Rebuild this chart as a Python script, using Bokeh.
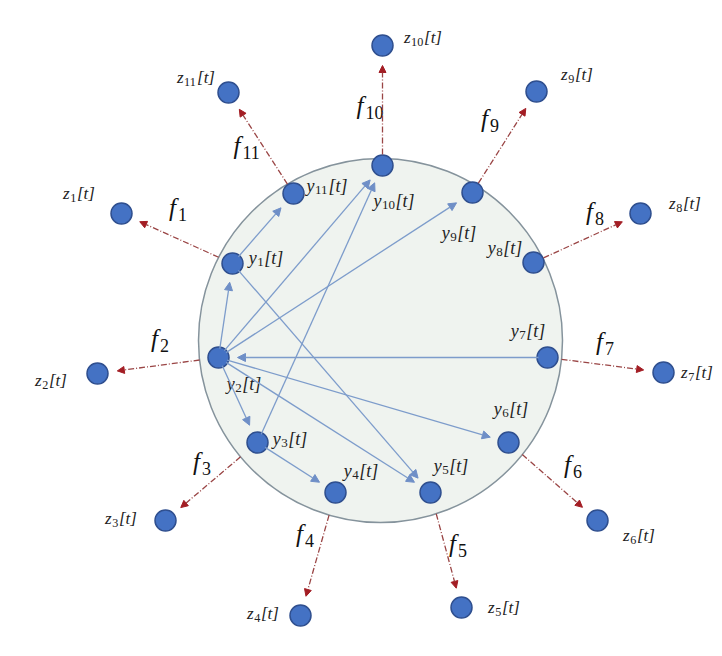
import numpy as np
from bokeh.plotting import figure
from bokeh.models import Range1d, ColumnDataSource, Arrow, NormalHead
from bokeh.core.properties import value
from bokeh.embed import file_html
from bokeh.resources import INLINE

# ---- data (diagram coordinates, image-pixel space) ----
idx = [str(i) for i in range(1, 12)]

# inner nodes y1..y11
y_x = [232, 218, 257, 335, 430, 508, 547, 533, 472, 382, 293]
y_y = [263, 357, 442, 492, 492, 442, 357, 262, 192, 165, 193]
# outer nodes z1..z11
z_x = [121, 97, 165, 300, 461, 597, 663, 640, 536, 382, 228]
z_y = [213, 373, 520, 615, 607, 520, 372, 213, 91, 45, 92]

# label anchors (centre of each label)
y_lab_x = [265, 243, 289, 360, 450, 510, 527, 504, 458, 393, 326]
y_lab_y = [257, 383, 438, 470, 465, 408, 330, 247, 232, 200, 185]
z_lab_x = [78, 50, 120, 262, 503, 638, 696, 684, 576, 422, 195]
z_lab_y = [193, 380, 518, 613, 607, 535, 372, 203, 74, 37, 77]
f_lab_x = [178, 160, 202, 305, 458, 573, 605, 595, 490, 370, 247]
f_lab_y = [207, 338, 461, 533, 543, 464, 341, 211, 118, 105, 145]

# directed edges between inner nodes (source, target)
edges = [(1, 11), (2, 1), (2, 10), (2, 9), (2, 3), (2, 5), (2, 6),
         (1, 5), (3, 10), (3, 4), (7, 2)]

# big circle
circ_x, circ_y, circ_r = 380, 340, 182

# ---- figure ----
W, H = 714, 648
p = figure(width=W, height=H, x_range=Range1d(0, W), y_range=Range1d(H, 0),
           output_backend="svg", toolbar_location=None, min_border=0,
           x_axis_type=None, y_axis_type=None)
p.grid.visible = False
p.outline_line_color = None
p.background_fill_color = "white"

p.circle(x=[circ_x], y=[circ_y], radius=circ_r, fill_color="#eff3ef",
         line_color="#85939c", line_width=1.5)

# blue edges
x0, y0, x1, y1 = [], [], [], []
for s, t in edges:
    sx, sy = y_x[s - 1], y_y[s - 1]
    tx, ty = y_x[t - 1], y_y[t - 1]
    d = np.hypot(tx - sx, ty - sy)
    ux, uy = (tx - sx) / d, (ty - sy) / d
    x0.append(sx + 9 * ux); y0.append(sy + 9 * uy)
    x1.append(tx - 19 * ux); y1.append(ty - 19 * uy)
bsrc = ColumnDataSource(dict(x0=x0, y0=y0, x1=x1, y1=y1))
p.add_layout(Arrow(source=bsrc, x_start="x0", y_start="y0", x_end="x1", y_end="y1",
                   line_color="#7d9ccb", line_width=1.3,
                   end=NormalHead(size=8, fill_color="#6f8fc7", line_color="#6f8fc7")))

# red dash-dot edges from circle boundary to outer nodes
r0x, r0y, r1x, r1y = [], [], [], []
for i in range(11):
    sx, sy, tx, ty = y_x[i], y_y[i], z_x[i], z_y[i]
    d = np.hypot(tx - sx, ty - sy)
    ux, uy = (tx - sx) / d, (ty - sy) / d
    fx, fy = sx - circ_x, sy - circ_y
    b = fx * ux + fy * uy
    c = fx * fx + fy * fy - circ_r ** 2
    tpar = -b + np.sqrt(max(b * b - c, 0))
    tpar = max(tpar, 11)
    r0x.append(sx + tpar * ux); r0y.append(sy + tpar * uy)
    r1x.append(tx - 20 * ux); r1y.append(ty - 20 * uy)
rsrc = ColumnDataSource(dict(x0=r0x, y0=r0y, x1=r1x, y1=r1y))
p.add_layout(Arrow(source=rsrc, x_start="x0", y_start="y0", x_end="x1", y_end="y1",
                   line_color="#9a4545", line_width=1.3, line_dash="6 2 1 2",
                   end=NormalHead(size=7, fill_color="#a31d24", line_color="#a31d24")))

# nodes
p.scatter(y_x, y_y, size=21, fill_color="#4472c4", line_color="#2f4f8f", line_width=1.5)
p.scatter(z_x, z_y, size=21, fill_color="#4472c4", line_color="#2f4f8f", line_width=1.5)

# labels: italic letter + real subscript digits + "[t]"
FONT = value("Liberation Serif")
LETTER_W = {"y": 0.47, "z": 0.42, "f": 0.36}


def add_labels(letter, cx_list, cy_list, size, tail, color):
    sub_size = size * 0.72
    bx, by, sx_, sy_, tx_, ty_, subs = [], [], [], [], [], [], []
    for k, (cx, cy) in enumerate(zip(cx_list, cy_list)):
        num = idx[k]
        w_letter = LETTER_W[letter] * size
        w_sub = 0.5 * sub_size * len(num) + 0.04 * size
        w_tail = 1.0 * size if tail else 0
        total = w_letter + w_sub + w_tail
        left = cx - total / 2
        bx.append(left); by.append(cy)
        sx_.append(left + w_letter); sy_.append(cy + 0.26 * size)
        tx_.append(left + w_letter + w_sub); ty_.append(cy)
        subs.append(num)
    p.text(bx, by, text=[letter] * len(bx), text_font=FONT, text_font_style="italic",
           text_font_size=f"{size}px", text_color=color, text_align="left",
           text_baseline="middle")
    p.text(sx_, sy_, text=subs, text_font=FONT, text_font_style="normal",
           text_font_size=f"{sub_size:.1f}px", text_color=color, text_align="left",
           text_baseline="middle")
    if tail:
        p.text(tx_, ty_, text=[tail] * len(tx_), text_font=FONT, text_font_style="italic",
               text_font_size=f"{size}px", text_color=color, text_align="left",
               text_baseline="middle")


add_labels("y", y_lab_x, y_lab_y, 18, "[t]", "#222222")
add_labels("z", z_lab_x, z_lab_y, 17, "[t]", "#222222")
add_labels("f", f_lab_x, f_lab_y, 25, "", "#111111")

open("out.html", "w").write(file_html(p, INLINE))
